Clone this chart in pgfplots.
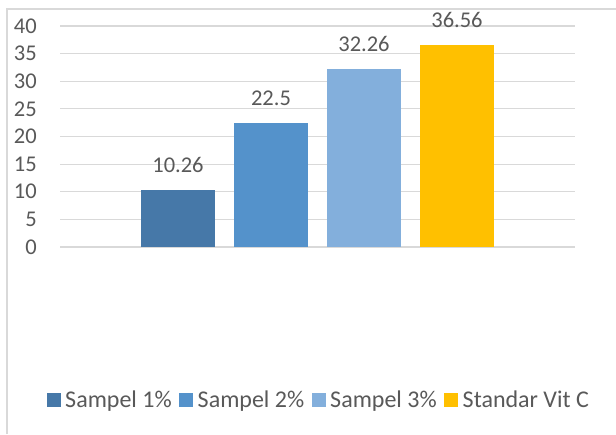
\documentclass[border=0pt]{standalone}
\usepackage{pgfplots}
\pgfplotsset{compat=1.18}
\usepackage{fontspec}
\setmainfont{Carlito}
\definecolor{textgray}{HTML}{595959}
\definecolor{gridgray}{HTML}{D9D9D9}
\definecolor{barA}{RGB}{70,120,168}
\definecolor{barB}{RGB}{84,146,203}
\definecolor{barC}{RGB}{131,175,220}
\definecolor{barD}{HTML}{FFC000}
\newcommand{\chartfont}{\fontsize{22.5}{26}\selectfont}
\newcommand{\legendfont}{\fontsize{24}{28}\selectfont}
\begin{document}
\begin{tikzpicture}
\useasboundingbox (0,0) rectangle (616pt,434pt);
\fill[white] (0,0) rectangle (616pt,434pt);
% chart frame
\draw[gridgray, line width=1.3pt] (7pt,0) -- (7pt,425pt) -- (616pt,425pt);
\begin{axis}[
  scale only axis, width=515pt, height=221pt,
  at={(60pt,187pt)}, anchor=south west,
  ymin=0, ymax=40, ytick={0,5,...,40},
  xmin=-0.5, xmax=0.5, xtick=\empty,
  ymajorgrids, grid style={color=gridgray, line width=1.2pt},
  axis line style={draw=none},
  major tick length=0pt,
  /pgf/number format/assume math mode=true,
  yticklabel style={font=\chartfont, text=textgray, inner sep=0pt, xshift=-23pt},
  ybar=19pt, bar width=74pt,
  nodes near coords,
  nodes near coords style={font=\chartfont, text=textgray, inner sep=0pt, anchor=south, yshift=17pt},
  legend columns=4,
  legend image code/.code={\fill[#1] (0pt,-7pt) rectangle (14pt,7pt);},
  legend style={draw=none, fill=none, at={(0.505,-0.692)}, anchor=center,
    font=\legendfont, text=textgray, nodes={inner sep=4.5pt},
    /tikz/every even column/.append style={column sep=3pt}},
]
\addplot[fill=barA, draw=none] coordinates {(0,10.26)};
\addplot[fill=barB, draw=none] coordinates {(0,22.5)};
\addplot[fill=barC, draw=none] coordinates {(0,32.26)};
\addplot[fill=barD, draw=none] coordinates {(0,36.56)};
\legend{Sampel 1\%, Sampel 2\%, Sampel 3\%, Standar Vit C}
\end{axis}
\end{tikzpicture}
\end{document}
